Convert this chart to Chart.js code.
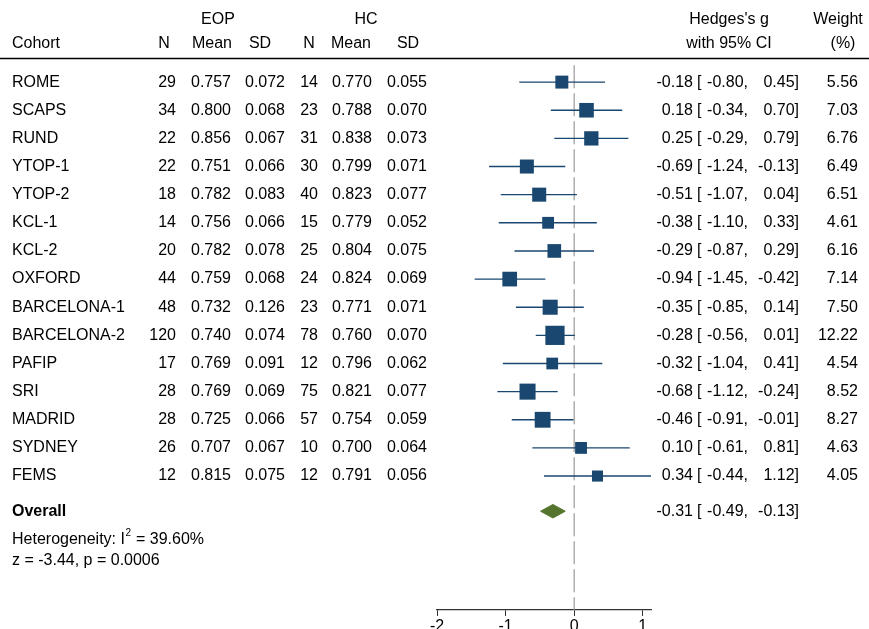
<!DOCTYPE html>
<html>
<head>
<meta charset="utf-8">
<script src="https://cdn.jsdelivr.net/npm/chart.js@4"></script>
<style>
  html, body { margin: 0; padding: 0; background: #fff; }
  canvas { display: block; }
</style>
</head>
<body>
<canvas id="c" width="869" height="629"></canvas>
<script>
// study data
const cohorts = ["ROME", "SCAPS", "RUND", "YTOP-1", "YTOP-2", "KCL-1", "KCL-2", "OXFORD",
  "BARCELONA-1", "BARCELONA-2", "PAFIP", "SRI", "MADRID", "SYDNEY", "FEMS"];
const eopN = [29, 34, 22, 22, 18, 14, 20, 44, 48, 120, 17, 28, 28, 26, 12];
const eopMean = [0.757, 0.800, 0.856, 0.751, 0.782, 0.756, 0.782, 0.759, 0.732, 0.740, 0.769, 0.769, 0.725, 0.707, 0.815];
const eopSD = [0.072, 0.068, 0.067, 0.066, 0.083, 0.066, 0.078, 0.068, 0.126, 0.074, 0.091, 0.069, 0.066, 0.067, 0.075];
const hcN = [14, 23, 31, 30, 40, 15, 25, 24, 23, 78, 12, 75, 57, 10, 12];
const hcMean = [0.770, 0.788, 0.838, 0.799, 0.823, 0.779, 0.804, 0.824, 0.771, 0.760, 0.796, 0.821, 0.754, 0.700, 0.791];
const hcSD = [0.055, 0.070, 0.073, 0.071, 0.077, 0.052, 0.075, 0.069, 0.071, 0.070, 0.062, 0.077, 0.059, 0.064, 0.056];
const hedgesG = [-0.18, 0.18, 0.25, -0.69, -0.51, -0.38, -0.29, -0.94, -0.35, -0.28, -0.32, -0.68, -0.46, 0.10, 0.34];
const ciLow = [-0.80, -0.34, -0.29, -1.24, -1.07, -1.10, -0.87, -1.45, -0.85, -0.56, -1.04, -1.12, -0.91, -0.61, -0.44];
const ciHigh = [0.45, 0.70, 0.79, -0.13, 0.04, 0.33, 0.29, -0.42, 0.14, 0.01, 0.41, -0.24, -0.01, 0.81, 1.12];
const weights = [5.56, 7.03, 6.76, 6.49, 6.51, 4.61, 6.16, 7.14, 7.50, 12.22, 4.54, 8.52, 8.27, 4.63, 4.05];

// overall estimate
const overallG = -0.31;
const overallLow = -0.49;
const overallHigh = -0.13;
const heterogeneityI2 = "39.60";
const zText = "z = -3.44, p = 0.0006";

// x axis ticks
const xTicks = [-2, -1, 0, 1];

const NAVY = "#1a476f";
const GREEN = "#55752f";
const FONT = '"Liberation Sans", Arial, sans-serif';
const overallRow = 15.25;
const yMin = -0.75, yMax = 18.76;

const rows = cohorts.map((c, i) => i);

// CI lines, one dataset per study
const ciSets = rows.map(i => ({
  type: "line",
  data: [{ x: ciLow[i], y: i }, { x: ciHigh[i], y: i }],
  borderColor: NAVY,
  borderWidth: 1.4,
  pointRadius: 0,
  order: 2
}));

const f2 = v => v.toFixed(2);

const textPlugin = {
  id: "forestText",
  afterDraw(chart) {
    const ctx = chart.ctx;
    const ys = chart.scales.y;
    ctx.save();
    ctx.fillStyle = "#000";
    ctx.textBaseline = "middle";
    ctx.font = "16px " + FONT;

    const put = (t, x, y, align) => { ctx.textAlign = align; ctx.fillText(t, x, y); };

    // headers
    put("EOP", 218, 20, "center");
    put("HC", 366, 20, "center");
    put("Cohort", 12, 44, "left");
    put("N", 164, 44, "center");
    put("Mean", 212, 44, "center");
    put("SD", 260, 44, "center");
    put("N", 309, 44, "center");
    put("Mean", 351, 44, "center");
    put("SD", 408, 44, "center");
    put("Hedges's g", 729, 20, "center");
    put("with 95% CI", 729, 44, "center");
    put("Weight", 838, 20, "center");
    put("(%)", 843, 44, "center");

    ctx.strokeStyle = "#000";
    ctx.lineWidth = 1.5;
    ctx.beginPath();
    ctx.moveTo(0, 58.5);
    ctx.lineTo(869, 58.5);
    ctx.stroke();

    const ciText = (g, l, h, y) => {
      put(f2(g), 693, y, "right");
      put("[", 697, y, "left");
      put(f2(l) + ",", 748, y, "right");
      put(f2(h) + "]", 799, y, "right");
    };

    rows.forEach(i => {
      const y = ys.getPixelForValue(i);
      put(cohorts[i], 12, y, "left");
      put(String(eopN[i]), 176, y, "right");
      put(eopMean[i].toFixed(3), 211, y, "center");
      put(eopSD[i].toFixed(3), 265, y, "center");
      put(String(hcN[i]), 318, y, "right");
      put(hcMean[i].toFixed(3), 352, y, "center");
      put(hcSD[i].toFixed(3), 407, y, "center");
      ciText(hedgesG[i], ciLow[i], ciHigh[i], y);
      put(f2(weights[i]), 858, y, "right");
    });

    const yo = ys.getPixelForValue(overallRow);
    ctx.font = "bold 16px " + FONT;
    put("Overall", 12, yo, "left");
    ctx.font = "16px " + FONT;
    ciText(overallG, overallLow, overallHigh, yo);

    // heterogeneity lines
    const pre = "Heterogeneity: I";
    put(pre, 12, 540, "left");
    const w1 = ctx.measureText(pre).width;
    ctx.font = "10px " + FONT;
    put("2", 12 + w1 + 0.5, 533, "left");
    const w2 = ctx.measureText("2").width;
    ctx.font = "16px " + FONT;
    put(" = " + heterogeneityI2 + "%", 12 + w1 + w2 + 1, 540, "left");
    put(zText, 12, 561, "left");
    ctx.restore();
  }
};

new Chart(document.getElementById("c"), {
  type: "line",
  data: {
    datasets: [
      {
        type: "scatter",
        data: rows.map(i => ({ x: hedgesG[i], y: i })),
        pointStyle: "rect",
        pointRadius: rows.map(i => 5.5 * Math.sqrt(weights[i]) / Math.SQRT2),
        backgroundColor: NAVY,
        borderColor: NAVY,
        borderWidth: 0,
        order: 0
      },
      {
        type: "line",
        data: [
          { x: overallLow, y: overallRow },
          { x: overallG, y: overallRow - 0.24 },
          { x: overallHigh, y: overallRow },
          { x: overallG, y: overallRow + 0.24 },
          { x: overallLow, y: overallRow }
        ],
        fill: "shape",
        backgroundColor: GREEN,
        borderColor: GREEN,
        borderWidth: 1,
        pointRadius: 0,
        order: 0
      },
      ...ciSets,
      {
        type: "line",
        data: [{ x: 0, y: -0.6 }, { x: 0, y: yMax }],
        borderColor: "#9a9a9a",
        borderWidth: 1.2,
        borderDash: [23, 5],
        pointRadius: 0,
        order: 5
      }
    ]
  },
  options: {
    responsive: false,
    animation: false,
    devicePixelRatio: 1,
    layout: { padding: { left: 437, right: 218, top: 61, bottom: 0 } },
    plugins: { legend: { display: false }, tooltip: { enabled: false } },
    scales: {
      x: {
        type: "linear",
        min: -2,
        max: 1.12,
        afterFit(scale) { scale.height = 19; },
        afterBuildTicks(scale) { scale.ticks = xTicks.map(v => ({ value: v })); },
        grid: { drawOnChartArea: false, drawTicks: true, tickLength: 6, color: "#333", lineWidth: 1 },
        border: { display: true, color: "#333", width: 1.3 },
        ticks: { color: "#000", font: { size: 16, family: FONT }, padding: 1, includeBounds: false }
      },
      y: {
        type: "linear",
        reverse: true,
        min: yMin,
        max: yMax,
        display: false
      }
    }
  },
  plugins: [textPlugin]
});
</script>
</body>
</html>
